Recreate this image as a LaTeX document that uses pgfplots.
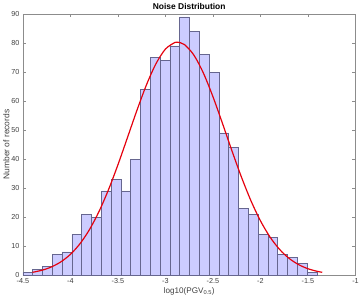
\documentclass[border=0pt]{standalone}
\usepackage{pgfplots}
\pgfplotsset{compat=1.18}
\usepackage{fontspec}
\setmainfont{Liberation Sans}
\definecolor{barfill}{rgb}{0.8,0.8,1}
\definecolor{baredge}{rgb}{0.4,0.4,0.56}
\definecolor{axgray}{rgb}{0.55,0.55,0.55}
\definecolor{txtgray}{rgb}{0.25,0.25,0.25}
\definecolor{fitred}{rgb}{0.9,0,0.05}
\begin{document}
\begin{tikzpicture}
\begin{axis}[
  scale only axis,
  width=335pt, height=263pt,
  xmin=-4.5, xmax=-1, ymin=0, ymax=90,
  xtick={-4.5,-4,-3.5,-3,-2.5,-2,-1.5,-1},
  ytick={0,10,20,30,40,50,60,70,80,90},
  /pgf/number format/assume math mode=true,
  xticklabel style={font=\fontsize{7.3}{8}\selectfont, text=txtgray},
  yticklabel style={font=\fontsize{7.3}{8}\selectfont, text=txtgray},
  axis line style={axgray, line width=0.5pt},
  every tick/.style={axgray, line width=0.5pt},
  major tick length=3.5pt,
  tick align=inside,
  title={\textbf{Noise Distribution}},
  title style={font=\fontsize{8.5}{9}\selectfont, yshift=-5pt},
  xlabel={log10(PGV\textsubscript{0.5})},
  ylabel={Number of records},
  xlabel style={font=\fontsize{8.2}{9}\selectfont, text=txtgray, yshift=3pt},
  ylabel style={font=\fontsize{8.5}{9}\selectfont, text=txtgray, yshift=-5pt},
  clip=false,
]
\addplot[ybar interval, fill=barfill, draw=baredge, line width=0.6pt] coordinates {
(-4.5000,1) (-4.3969,2) (-4.2937,3) (-4.1906,7) (-4.0875,8) (-3.9844,14)
(-3.8812,21) (-3.7781,20) (-3.6750,29) (-3.5719,33) (-3.4687,29) (-3.3656,40)
(-3.2625,64) (-3.1594,75) (-3.0562,74) (-2.9531,79) (-2.8500,89) (-2.7469,84)
(-2.6437,76) (-2.5406,70) (-2.4375,49) (-2.3344,44) (-2.2312,23) (-2.1281,21)
(-2.0250,14) (-1.9219,13) (-1.8187,7) (-1.7156,6) (-1.6125,4) (-1.5094,1)
(-1.4062,0)
};
\addplot[fitred, line width=1.2pt, smooth, no marks] coordinates {
(-4.40,0.95) (-4.30,1.66) (-4.20,2.81) (-4.10,4.57) (-4.00,7.15) (-3.90,10.79)
(-3.80,15.65) (-3.70,21.86) (-3.60,29.38) (-3.50,38.03) (-3.40,47.38) (-3.30,56.80)
(-3.20,65.56) (-3.10,72.85) (-3.00,77.91) (-2.90,80.20) (-2.874,80.3) (-2.80,79.46)
(-2.70,75.80) (-2.60,69.59) (-2.50,61.49) (-2.40,52.31) (-2.30,42.84) (-2.20,33.77)
(-2.10,25.62) (-2.00,18.71) (-1.90,13.15) (-1.80,8.90) (-1.70,5.79) (-1.60,3.63)
(-1.50,2.19) (-1.40,1.27) (-1.35,0.96)
};
\end{axis}
\end{tikzpicture}
\end{document}
